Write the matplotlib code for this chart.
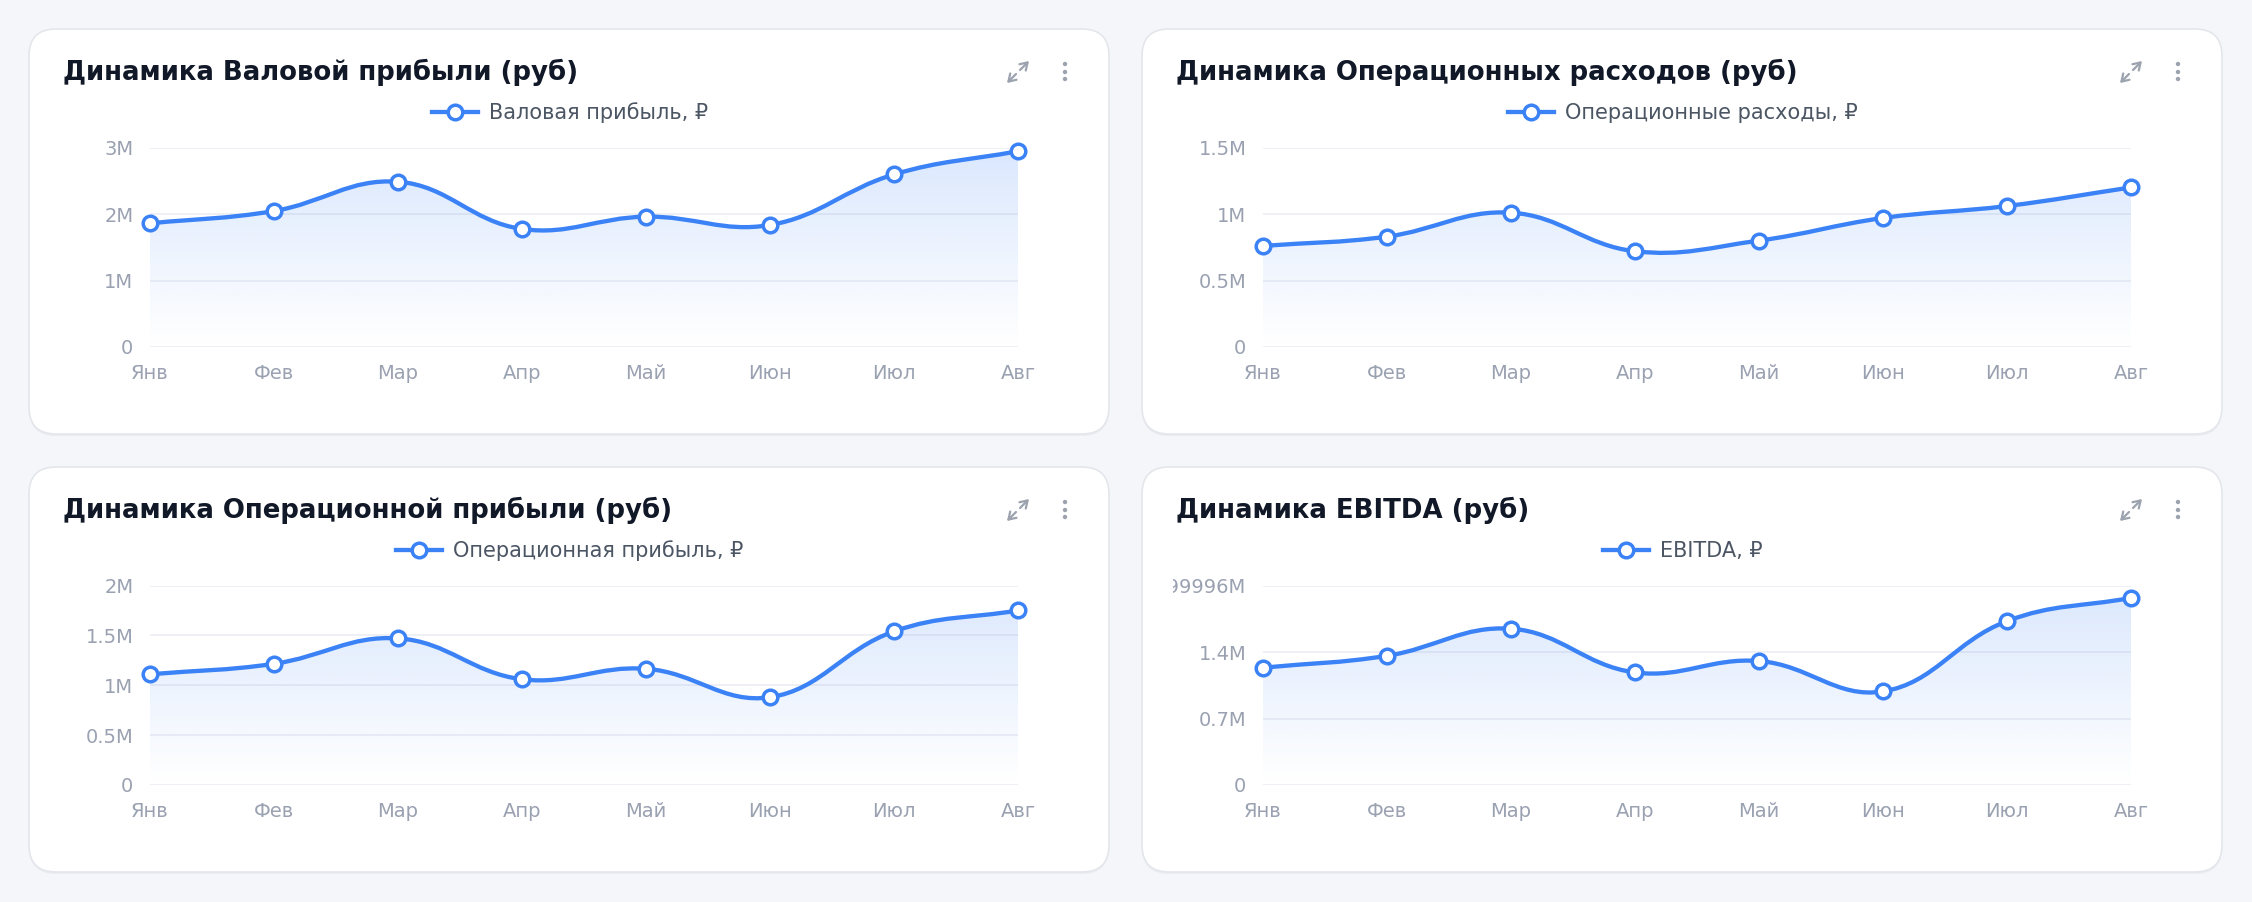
import numpy as np
import matplotlib
matplotlib.use("Agg")
import matplotlib.pyplot as plt
from matplotlib.patches import FancyBboxPatch, PathPatch, Circle
from matplotlib.path import Path
from matplotlib.lines import Line2D
from matplotlib.transforms import Bbox, TransformedBbox

W, H = 2252, 902

months = ['Янв', 'Фев', 'Мар', 'Апр', 'Май', 'Июн', 'Июл', 'Авг']

# values in millions of rubles
gross_profit = [1.86, 2.045, 2.485, 1.775, 1.96, 1.835, 2.595, 2.945]
opex = [0.76, 0.83, 1.01, 0.72, 0.80, 0.97, 1.06, 1.20]
op_profit = [1.11, 1.215, 1.47, 1.06, 1.165, 0.88, 1.54, 1.75]
ebitda = [1.235, 1.36, 1.645, 1.185, 1.305, 0.985, 1.725, 1.97]

titles = ['Динамика Валовой прибыли (руб)',
          'Динамика Операционных расходов (руб)',
          'Динамика Операционной прибыли (руб)',
          'Динамика EBITDA (руб)']
labels = ['Валовая прибыль, ₽', 'Операционные расходы, ₽',
          'Операционная прибыль, ₽', 'EBITDA, ₽']

yticks1 = [0, 1, 2, 3]
yticks2 = [0, 0.5, 1.0, 1.5]
yticks3 = [0, 0.5, 1.0, 1.5, 2.0]
yticks4 = [0, 0.7, 1.4, 2.1]
ylabels1 = ['0', '1M', '2M', '3M']
ylabels2 = ['0', '0.5M', '1M', '1.5M']
ylabels3 = ['0', '0.5M', '1M', '1.5M', '2M']
ylabels4 = ['0', '0.7M', '1.4M', '2.0999999999999996M']

BLUE = '#3b82f6'
BG = '#f4f6f9'
GRID = '#eceef3'
TICK = '#9aa1b1'


def spline(xs, ys, sx, sy, ymax, t=0.4):
    # chart.js style bezier control points, computed in pixel space
    px = np.asarray(xs, float) * sx
    py = np.asarray(ys, float) * sy
    n = len(px)
    cprev, cnext = [], []
    for i in range(n):
        p = i - 1 if i > 0 else i
        q = i + 1 if i < n - 1 else i
        d01 = np.hypot(px[i] - px[p], py[i] - py[p])
        d12 = np.hypot(px[q] - px[i], py[q] - py[i])
        tot = d01 + d12
        s01 = d01 / tot if tot else 0
        s12 = d12 / tot if tot else 0
        dx, dy = px[q] - px[p], py[q] - py[p]
        cprev.append((px[i] - t * s01 * dx, py[i] - t * s01 * dy))
        cnext.append((px[i] + t * s12 * dx, py[i] + t * s12 * dy))

    def back(c):
        x = min(max(c[0] / sx, 0), n - 1)
        y = min(max(c[1] / sy, 0), ymax)
        return (x, y)

    verts = [(xs[0], ys[0])]
    codes = [Path.MOVETO]
    for i in range(n - 1):
        verts += [back(cnext[i]), back(cprev[i + 1]), (xs[i + 1], ys[i + 1])]
        codes += [Path.CURVE4] * 3
    return verts, codes


fig = plt.figure(figsize=(W / 100, H / 100), dpi=100, facecolor=BG)
bg = fig.add_axes([0, 0, 1, 1])
bg.set_xlim(0, W)
bg.set_ylim(H, 0)
bg.axis('off')

cards = [(29, 29), (1142, 29), (29, 467), (1142, 467)]
series = [gross_profit, opex, op_profit, ebitda]
ticks = [yticks1, yticks2, yticks3, yticks4]
tlabels = [ylabels1, ylabels2, ylabels3, ylabels4]

for k, (cx, cy) in enumerate(cards):
    cw, ch = 1080, 405
    shadow = FancyBboxPatch((cx, cy + 2), cw, ch, boxstyle='round,pad=0,rounding_size=27',
                            fc='#e9ecf1', ec='none', zorder=0)
    bg.add_patch(shadow)
    card = FancyBboxPatch((cx, cy), cw, ch, boxstyle='round,pad=0,rounding_size=27',
                          fc='white', ec='#e3e6eb', lw=1.2, zorder=1)
    bg.add_patch(card)
    bg.text(cx + 34, cy + 50.5, titles[k], fontsize=18.7, fontweight='bold',
            color='#111827', va='baseline', ha='left', zorder=3)

    # expand icon + menu dots
    ix, iy = cx + 989, cy + 43
    ar = dict(arrowstyle='->,head_length=0.5,head_width=0.32', color='#9ca3af', lw=1.6,
              shrinkA=0, shrinkB=0)
    bg.annotate('', xy=(ix + 11, iy - 11), xytext=(ix + 2, iy - 2), arrowprops=ar, zorder=3)
    bg.annotate('', xy=(ix - 11, iy + 11), xytext=(ix - 2, iy + 2), arrowprops=ar, zorder=3)
    for dy in (-8, 0, 7):
        bg.add_patch(Circle((cx + 1036, iy + dy), 2.2, fc='#9ca3af', ec='none', zorder=3))

    # plot area
    left, right = cx + 121, cx + 989
    top, bottom = cy + 118.5, cy + 318
    ax = fig.add_axes([left / W, 1 - bottom / H, (right - left) / W, (bottom - top) / H])
    ax.patch.set_alpha(0)
    vals = series[k]
    ymax = ticks[k][-1]
    x = np.arange(len(months))
    ax.set_xlim(0, len(months) - 1)
    ax.set_ylim(0, ymax)

    sx = (right - left) / (len(months) - 1)
    sy = (bottom - top) / ymax
    verts, codes = spline(x, vals, sx, sy, ymax)

    fill_path = Path(verts + [(len(months) - 1, 0), (0, 0), (0, 0)],
                     codes + [Path.LINETO, Path.LINETO, Path.CLOSEPOLY])
    clip = PathPatch(fill_path, fc='none', ec='none', transform=ax.transData)
    ax.add_patch(clip)
    grad = np.zeros((256, 1, 4))
    grad[..., 0], grad[..., 1], grad[..., 2] = 59 / 255, 130 / 255, 246 / 255
    grad[:, 0, 3] = np.linspace(0.0, 0.19, 256)
    im = ax.imshow(grad, extent=[0, len(months) - 1, 0, ymax], origin='lower',
                   aspect='auto', zorder=1, interpolation='bilinear')
    im.set_clip_path(clip)

    ax.add_patch(PathPatch(Path(verts, codes), fc='none', ec=BLUE, lw=3.1,
                           zorder=3, clip_on=False, capstyle='round'))
    ax.plot(x, vals, 'o', ms=10.5, mfc='white', mec=BLUE, mew=2.5, zorder=4, clip_on=False)

    ax.set_yticks(ticks[k])
    ax.set_yticklabels(tlabels[k])
    ax.set_xticks(x)
    ax.set_xticklabels(months)
    ax.tick_params(axis='both', length=0, labelsize=14, labelcolor=TICK)
    ax.tick_params(axis='y', pad=12)
    ax.tick_params(axis='x', pad=12)
    ax.grid(axis='y', color=GRID, lw=1.2)
    ax.set_axisbelow(True)
    for s in ax.spines.values():
        s.set_visible(False)

    # labels wider than the canvas get cut at its left edge
    cbox = TransformedBbox(Bbox([[(cx + 31) / W, 0], [1, 1]]), fig.transFigure)
    for lab in ax.get_yticklabels():
        lab.set_clip_box(cbox)
        lab.set_clip_on(True)

    handle = Line2D([], [], color=BLUE, lw=3.1, marker='o', ms=10.5, mfc='white',
                    mec=BLUE, mew=2.5)
    fig.legend([handle], [labels[k]], loc='center',
               bbox_to_anchor=((cx + 541) / W, 1 - (cy + 84) / H), frameon=False,
               fontsize=15, handlelength=2.2, handletextpad=0.55, labelcolor='#4b5563')

fig.savefig('out.png', dpi=100, facecolor=BG)
